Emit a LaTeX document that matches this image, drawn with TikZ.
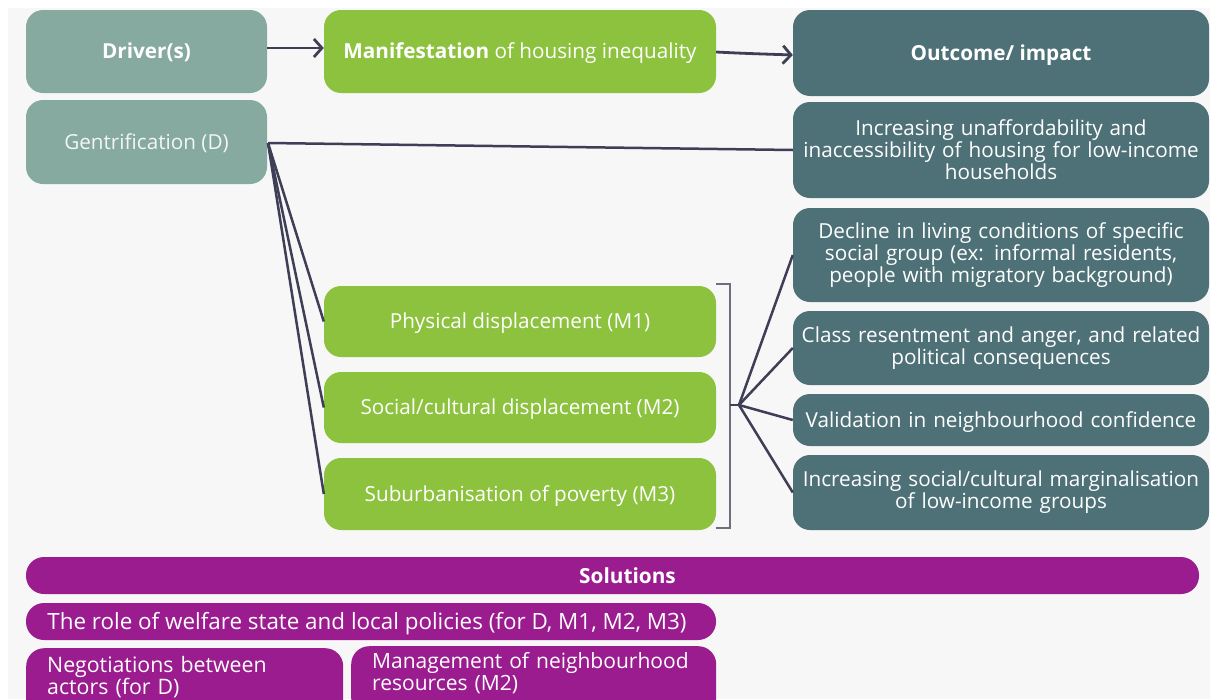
\documentclass[tikz,border=0pt]{standalone}
\usepackage{fontspec}
\setmainfont{Open Sans}
\usetikzlibrary{arrows.meta}
\definecolor{bgc}{HTML}{F7F7F7}
\definecolor{drvc}{HTML}{86A9A0}
\definecolor{grn}{HTML}{8DC23F}
\definecolor{dteal}{HTML}{4E7177}
\definecolor{purp}{HTML}{9B1C8F}
\definecolor{lnc}{HTML}{3E3E56}
\definecolor{brk}{HTML}{6E6E7C}
\tikzset{
  box/.style={rounded corners=17pt, inner sep=0pt, text=white, align=center, font=\fontsize{20.7}{22}\selectfont},
  oneline/.style={text height=16pt, text depth=1.2pt},
  drvbox/.style={box, fill=drvc},
  grnbox/.style={box, fill=grn},
  outbox/.style={box, fill=dteal},
  solbox/.style={rounded corners=18pt, inner sep=0pt, text=white, fill=purp, font=\fontsize{20.8}{22}\selectfont},
  conn/.style={draw=lnc, line width=2.5pt},
  arr/.style={conn, line width=2.8pt, -{Straight Barb[length=8pt,width=18pt,line width=2.8pt]}},
}
\begin{document}
\begin{tikzpicture}[x=1pt,y=-1pt]
\useasboundingbox (0,0) rectangle (1210,699);
\clip (0,0) rectangle (1210,699);
\fill[white] (0,0) rectangle (1210,699);
\fill[bgc] (8,8) rectangle (1210,699);

% headers
\node[drvbox, oneline, minimum width=241pt, minimum height=83pt] (drv) at (146.5,51.5) {\textbf{Driver(s)}};
\node[grnbox, oneline, minimum width=392pt, minimum height=83pt] (man) at (520,51.5) {\textbf{Manifestation} of housing inequality};
\node[outbox, oneline, minimum width=416pt, minimum height=86pt] (out) at (1001,53) {\textbf{Outcome/ impact}};

% driver
\node[drvbox, oneline, minimum width=241pt, minimum height=84pt, text=white!90!drvc] (gen) at (146.5,142) {Gentrification (D)};

% manifestations
\node[grnbox, oneline, minimum width=392pt, minimum height=71pt] (m1) at (520,321.5) {Physical displacement (M1)};
\node[grnbox, oneline, minimum width=392pt, minimum height=71pt] (m2) at (520,407.5) {Social/cultural displacement (M2)};
\node[grnbox, oneline, minimum width=392pt, minimum height=72pt] (m3) at (520,494) {Suburbanisation of poverty (M3)};

% outcomes
\node[outbox, minimum width=416pt, minimum height=96pt, text width=414pt] (o1) at (1001,150) {Increasing unaffordability and\\inaccessibility of housing for low-income\\households};
\node[outbox, minimum width=416pt, minimum height=94pt, text width=414pt] (o2) at (1001,255) {Decline in living conditions of specific\\social group (ex: informal residents,\\people with migratory background)};
\node[outbox, minimum width=416pt, minimum height=74pt, text width=414pt] (o3) at (1001,348) {Class resentment and anger, and related\\political consequences};
\node[outbox, oneline, minimum width=416pt, minimum height=52pt, text width=414pt] (o4) at (1001,420) {Validation in neighbourhood confidence};
\node[outbox, minimum width=416pt, minimum height=75pt, text width=414pt] (o5) at (1001,492.5) {Increasing social/cultural marginalisation\\of low-income groups};

% solutions
\node[solbox, minimum width=1173pt, minimum height=37pt] (sol) at (612.5,575.5) {\hspace*{30pt}\textbf{Solutions}};
\node[solbox, minimum width=690pt, minimum height=37pt, text height=17pt, text depth=1pt, font=\fontsize{22.4}{24}\selectfont] (role) at (371,621.5) {\hspace*{-8pt}The role of welfare state and local policies (for D, M1, M2, M3)};
\node[solbox, minimum width=317pt, minimum height=70pt, anchor=north west, text width=275pt, align=left, font=\fontsize{21.3}{22}\selectfont] (neg) at (26,648) {\\[-18pt]Negotiations between\\actors (for D)};
\node[solbox, minimum width=365pt, minimum height=70pt, anchor=north west, text width=323pt, align=left, font=\fontsize{21}{22}\selectfont] (mgmt) at (351,646) {\\[-23pt]Management of neighbourhood\\resources (M2)};

% arrows
\draw[arr] (drv.east |- 0,48) -- (man.west |- 0,48);
\draw[arr] (man.east |- 0,52) to[out=-3,in=178] (out.west |- 0,55);

% gentrification connectors
\coordinate (gs) at (268,143);
\draw[conn] (gs) -- (o1.west);
\draw[conn] (gs) -- (m1.west);
\draw[conn] (gs) -- (m2.west);
\draw[conn] (gs) -- (m3.west);

% bracket
\coordinate (bt) at (716,284);
\coordinate (bb) at (716,528);
\coordinate (bm) at (730,405);
\coordinate (fan) at (739,405);
\draw[draw=brk, line width=1.6pt] (bt) -- (730,284) -- (730,528) -- (bb);
\draw[conn] (bm) -- (fan);
\draw[conn] (fan) -- (o2.west);
\draw[conn] (fan) -- (o3.west);
\draw[conn] (fan) -- (o4.west);
\draw[conn] (fan) -- (o5.west);
\end{tikzpicture}
\end{document}
